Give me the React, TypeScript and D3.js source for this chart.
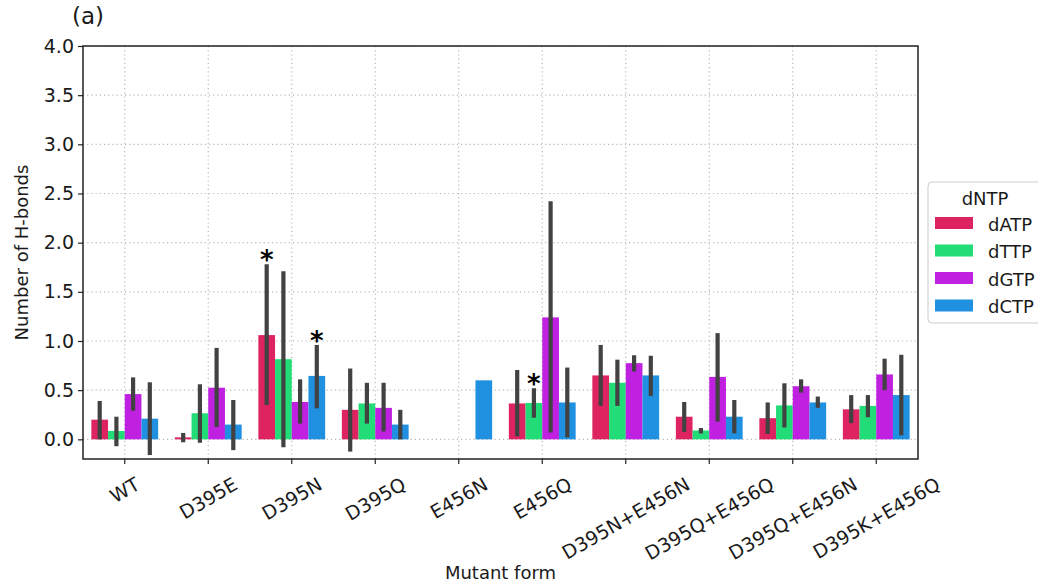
import { useEffect, useRef } from 'react';
import * as d3 from 'd3';

// mutant forms on the x axis
const categories = ['WT', 'D395E', 'D395N', 'D395Q', 'E456N', 'E456Q', 'D395N+E456N', 'D395Q+E456Q', 'D395Q+E456N', 'D395K+E456Q'];
const dntps = ['dATP', 'dTTP', 'dGTP', 'dCTP'];
const colors = ['#de2460', '#22dd77', '#c020e0', '#2090e0'];

// mean number of H-bonds, with error bar low / high
const dATP   = [0.20, 0.02, 1.06, 0.30, 0, 0.365, 0.65, 0.23, 0.215, 0.305];
const dATPLo = [0.0, -0.03, 0.35, -0.125, null, 0.03, 0.34, 0.075, 0.055, 0.165];
const dATPHi = [0.39, 0.065, 1.78, 0.72, null, 0.705, 0.96, 0.38, 0.375, 0.45];

const dTTP   = [0.085, 0.265, 0.815, 0.365, 0, 0.37, 0.575, 0.09, 0.345, 0.34];
const dTTPLo = [-0.07, -0.035, -0.08, 0.16, null, 0.22, 0.34, 0.06, 0.12, 0.225];
const dTTPHi = [0.23, 0.56, 1.71, 0.575, null, 0.52, 0.81, 0.115, 0.57, 0.45];

const dGTP   = [0.46, 0.525, 0.38, 0.32, 0, 1.24, 0.775, 0.635, 0.54, 0.66];
const dGTPLo = [0.29, 0.125, 0.16, 0.08, null, 0.07, 0.69, 0.18, 0.475, 0.50];
const dGTPHi = [0.63, 0.93, 0.61, 0.575, null, 2.42, 0.855, 1.08, 0.61, 0.82];

const dCTP   = [0.21, 0.15, 0.645, 0.15, 0.60, 0.375, 0.65, 0.23, 0.375, 0.45];
const dCTPLo = [-0.16, -0.11, 0.315, 0.0, null, 0.02, 0.44, 0.06, 0.32, 0.04];
const dCTPHi = [0.58, 0.40, 0.96, 0.30, null, 0.73, 0.85, 0.40, 0.435, 0.86];

// significant differences (asterisks)
const starCats  = ['D395N', 'D395N', 'E456Q'];
const starDntps = ['dATP', 'dCTP', 'dTTP'];

const yTicks = [0, 0.5, 1, 1.5, 2, 2.5, 3, 3.5, 4];

const FONT = '"DejaVu Sans", sans-serif';
const FS = 19;

export default function App() {
  const svgRef = useRef<SVGSVGElement>(null);

  useEffect(() => {
    if (!svgRef.current) return;
    const svg = d3.select(svgRef.current);
    svg.selectAll('*').remove();

    const W = 1038, H = 583;
    const margin = { top: 46, right: 120, bottom: 124, left: 83 };
    const width  = W - margin.left - margin.right;
    const height = H - margin.top - margin.bottom;

    const means = [dATP, dTTP, dGTP, dCTP];
    const lows  = [dATPLo, dTTPLo, dGTPLo, dCTPLo];
    const highs = [dATPHi, dTTPHi, dGTPHi, dCTPHi];

    const rows = categories.flatMap((c, i) => dntps.map((n, j) => ({
      cat: c, dntp: n, color: colors[j],
      value: means[j][i], lo: lows[j][i], hi: highs[j][i],
    })));

    const x = d3.scaleBand().domain(categories).range([0, width]).padding(0);
    // seaborn: the hue group fills 80% of the band
    const xInner = d3.scaleBand().domain(dntps)
      .range([x.bandwidth() * 0.1, x.bandwidth() * 0.9]).padding(0);
    const y = d3.scaleLinear().domain([-0.2, 4.0]).range([height, 0]);

    const g = svg.append('g').attr('transform', `translate(${margin.left},${margin.top})`);

    // ── Grid ────────────────────────────────────────────
    g.append('g')
      .selectAll('line')
      .data(yTicks)
      .enter().append('line')
      .attr('x1', 0).attr('x2', width)
      .attr('y1', d => y(d)).attr('y2', d => y(d))
      .attr('stroke', '#b8b8b8').attr('stroke-width', 1.2).attr('stroke-dasharray', '1.2,3');

    g.append('g')
      .selectAll('line')
      .data(categories)
      .enter().append('line')
      .attr('x1', d => x(d)! + x.bandwidth() / 2).attr('x2', d => x(d)! + x.bandwidth() / 2)
      .attr('y1', 0).attr('y2', height)
      .attr('stroke', '#b8b8b8').attr('stroke-width', 1.2).attr('stroke-dasharray', '1.2,3');

    // ── Bars ────────────────────────────────────────────
    g.selectAll('.bar')
      .data(rows.filter(d => d.value !== 0))
      .enter().append('rect')
      .attr('class', 'bar')
      .attr('x', d => x(d.cat)! + xInner(d.dntp)!)
      .attr('y', d => y(Math.max(0, d.value)))
      .attr('width', xInner.bandwidth())
      .attr('height', d => Math.abs(y(d.value) - y(0)))
      .attr('fill', d => d.color);

    // ── Error bars ──────────────────────────────────────
    g.selectAll('.err')
      .data(rows.filter(d => d.lo !== null && d.hi !== null))
      .enter().append('line')
      .attr('class', 'err')
      .attr('x1', d => x(d.cat)! + xInner(d.dntp)! + xInner.bandwidth() / 2)
      .attr('x2', d => x(d.cat)! + xInner(d.dntp)! + xInner.bandwidth() / 2)
      .attr('y1', d => y(d.lo as number))
      .attr('y2', d => y(d.hi as number))
      .attr('stroke', '#424242')
      .attr('stroke-width', 4.2);

    // ── Asterisks ───────────────────────────────────────
    starCats.forEach((c, k) => {
      const r = rows.find(d => d.cat === c && d.dntp === starDntps[k])!;
      g.append('text')
        .attr('x', x(c)! + xInner(r.dntp)! + xInner.bandwidth() / 2)
        .attr('y', y(r.hi as number) + 5)
        .attr('text-anchor', 'middle')
        .attr('font-family', FONT)
        .attr('font-weight', 'bold')
        .attr('font-size', '26px')
        .attr('fill', '#000')
        .text('*');
    });

    // ── Axes ────────────────────────────────────────────
    const yAxis = g.append('g')
      .call(d3.axisLeft(y).tickValues(yTicks).tickSize(5).tickPadding(4).tickFormat(d => d3.format('.1f')(d as number)));
    yAxis.select('.domain').remove();
    yAxis.selectAll('line').attr('stroke', '#222').attr('stroke-width', 1.2);
    yAxis.selectAll('text').attr('fill', '#1a1a1a').attr('font-size', `${FS}px`).attr('font-family', FONT);

    const xAxis = g.append('g')
      .attr('transform', `translate(0,${height})`)
      .call(d3.axisBottom(x).tickSize(5).tickFormat(() => ''));
    xAxis.select('.domain').remove();
    xAxis.selectAll('line').attr('stroke', '#222').attr('stroke-width', 1.2);

    // rotated tick labels, centred on the tick
    const labelTop = height + 15;
    categories.forEach(c => {
      const t = g.append('text')
        .attr('font-family', FONT)
        .attr('font-size', `${FS}px`)
        .attr('fill', '#1a1a1a')
        .attr('text-anchor', 'middle')
        .attr('dominant-baseline', 'central')
        .text(c);
      const w = (t.node() as SVGTextElement).getComputedTextLength();
      const h = w * 0.5 + FS * 1.0 * 0.866;
      t.attr('transform', `translate(${x(c)! + x.bandwidth() / 2},${labelTop + h / 2}) rotate(-30)`);
    });

    // frame
    g.append('rect')
      .attr('x', 0).attr('y', 0).attr('width', width).attr('height', height)
      .attr('fill', 'none').attr('stroke', '#222').attr('stroke-width', 1.5);

    // ── Labels ──────────────────────────────────────────
    svg.append('text')
      .attr('x', margin.left + width / 2).attr('y', 579)
      .attr('text-anchor', 'middle')
      .attr('font-family', FONT).attr('font-size', '18px').attr('fill', '#1a1a1a')
      .text('Mutant form');

    svg.append('text')
      .attr('transform', `translate(28,${margin.top + y(1.9)}) rotate(-90)`)
      .attr('text-anchor', 'middle')
      .attr('font-family', FONT).attr('font-size', '18px').attr('fill', '#1a1a1a')
      .text('Number of H-bonds');

    svg.append('text')
      .attr('x', 72).attr('y', 24)
      .attr('font-family', FONT).attr('font-size', '23px').attr('fill', '#1a1a1a')
      .text('(a)');

    // ── Legend ──────────────────────────────────────────
    const leg = svg.append('g').attr('transform', 'translate(928,182)');
    leg.append('rect')
      .attr('width', 130).attr('height', 141).attr('rx', 4)
      .attr('fill', '#fff').attr('stroke', '#cccccc').attr('stroke-width', 1);
    leg.append('text')
      .attr('x', 57).attr('y', 23)
      .attr('text-anchor', 'middle')
      .attr('font-family', FONT).attr('font-size', '18px').attr('fill', '#1a1a1a')
      .text('dNTP');
    dntps.forEach((n, j) => {
      const cy = 41 + j * 27.5;
      leg.append('rect')
        .attr('x', 7).attr('y', cy - 6).attr('width', 38).attr('height', 12)
        .attr('fill', colors[j]);
      leg.append('text')
        .attr('x', 60).attr('y', cy + 1)
        .attr('dominant-baseline', 'central')
        .attr('font-family', FONT).attr('font-size', '18px').attr('fill', '#1a1a1a')
        .text(n);
    });
  }, []);

  return (
    <div style={{ position: 'absolute', left: 0, top: 0, width: 1038, height: 583, background: '#fff' }}>
      <svg ref={svgRef} width={1038} height={583} style={{ display: 'block' }} />
    </div>
  );
}
